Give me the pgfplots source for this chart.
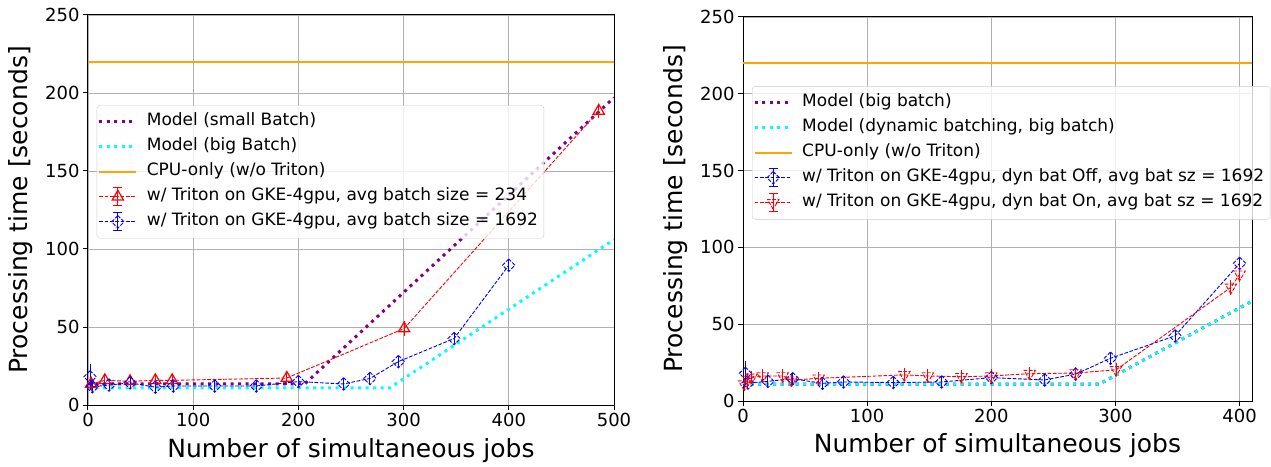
\documentclass[border=0pt]{standalone}
\usepackage{fontspec}
\setmainfont{DejaVu Sans}
\usepackage{pgfplots}
\pgfplotsset{compat=1.18}
\definecolor{mpurple}{HTML}{800080}
\definecolor{mcyan}{HTML}{00FFFF}
\definecolor{morange}{HTML}{FFA500}
\definecolor{gridgray}{HTML}{B0B0B0}
\pgfplotsset{
  mystyle/.style={
    scale only axis,
    ymin=0, ymax=250, ytick={0,50,100,150,200,250},
    grid=major, grid style={color=gridgray, line width=0.8pt},
    axis line style={line width=1pt},
    tick align=outside, major tick length=5pt, tick style={line width=1pt, black},
    xtick pos=bottom, ytick pos=left,
    tick label style={font=\fontsize{18}{21}\selectfont},
    /pgf/number format/assume math mode=true,
    label style={font=\fontsize{25}{30}\selectfont},
    legend cell align=left,
    legend style={anchor=north west, draw=black!20, rounded corners=3pt,
      fill=white, fill opacity=0.8, text opacity=1, draw opacity=1,
      font=\fontsize{17}{20}\selectfont,
      inner xsep=1pt, inner ysep=4pt, row sep=0pt,
      nodes={inner xsep=5pt, inner ysep=3.5pt, text height=13pt, text depth=5pt},
      /tikz/every odd column/.append style={column sep=4pt}},
    legend image code/.code={\draw[mark repeat=2,mark phase=2,#1] plot coordinates {(0pt,0pt)(18.5pt,0pt)(37pt,0pt)};},
  },
  modelstyle/.style={line width=3pt, dash pattern=on 3pt off 4.5pt},
  errstyle/.style={line width=0.9pt, dash pattern=on 3.7pt off 1.6pt,
    mark options={solid, line width=1.2pt},
    legend image code/.code={%
      \draw[##1, mark=none] (0pt,0pt) -- (37pt,0pt);
      \draw[##1, solid, mark=none, line width=1pt] (18.5pt,-9pt) -- (18.5pt,9pt) (14pt,9pt) -- (23pt,9pt) (14pt,-9pt) -- (23pt,-9pt);
      \draw[##1, mark repeat=2, mark phase=2] plot coordinates {(0pt,0pt)(18.5pt,0pt)(37pt,0pt)};},
    error bars/y dir=both, error bars/y explicit, error bars/error mark=-,
    error bars/error bar style={solid, line width=1pt},
    error bars/error mark options={solid, line width=1pt, mark size=5pt}},
}
\begin{document}
\begin{tikzpicture}
\useasboundingbox (0,0) rectangle (1271pt,466pt);
% ---------------- left ----------------
\begin{axis}[mystyle,
  at={(88pt,61pt)}, anchor=south west, width=526pt, height=390pt,
  xmin=0, xmax=500, xtick={0,100,200,300,400,500},
  xlabel={Number of simultaneous jobs}, ylabel={Processing time [seconds]},
  xlabel style={at={(axis description cs:0.5,-0.135)}, anchor=base, inner sep=0pt},
  ylabel style={at={(axis description cs:-0.105,0.5)}, anchor=south, inner sep=0pt},
  legend style={at={(0.0165,0.769)}},
]
\addplot[mpurple, modelstyle] coordinates {(0,13.5) (206,13.5) (500,197)};
\addlegendentry{Model (small Batch)}
\addplot[mcyan, modelstyle] coordinates {(0,11) (287,11) (500,106)};
\addlegendentry{Model (big Batch)}
\addplot[morange, line width=2.5pt] coordinates {(0,220) (500,220)};
\addlegendentry{CPU-only (w/o Triton)}
\addplot[red, errstyle, mark=triangle, mark size=6.5pt] coordinates {
 (3,13.5) +- (0,1.5) (16,15.8) +- (0,1) (40,15.2) +- (0,1) (64,15.8) +- (0,1)
 (80,15.8) +- (0,1) (189,17.3) +- (0,1.5) (300.5,49) +- (0,1.5) (485.5,188.5) +- (0,1.5)};
\addlegendentry{w/ Triton on GKE-4gpu, avg batch size = 234}
\addplot[blue, errstyle, mark=square, mark options={rotate=45}, mark size=4.4pt] coordinates {
 (2,18) +- (0,5) (4,11.7) +- (0,0.5) (20,12.8) +- (0,0.5) (40,14.2) +- (0,0.5)
 (64,11.4) +- (0,0.5) (81,12.2) +- (0,0.5) (120.5,12.2) +- (0,0.5) (160,12.2) +- (0,0.5)
 (200,15) +- (0,0.5) (243,13.5) +- (0,0.5) (268,17) +- (0,0.5) (295,27.8) +- (0,0.5)
 (348,42.6) +- (0,0.5) (400,89.6) +- (0,0.5)};
\addlegendentry{w/ Triton on GKE-4gpu, avg batch size = 1692}
\end{axis}
% ---------------- right ----------------
\begin{axis}[mystyle,
  at={(743pt,65pt)}, anchor=south west, width=509pt, height=384pt,
  xmin=0, xmax=410, xtick={0,100,200,300,400},
  xlabel={Number of simultaneous jobs}, ylabel={Processing time [seconds]},
  xlabel style={at={(axis description cs:0.5,-0.133)}, anchor=base, inner sep=0pt},
  ylabel style={at={(axis description cs:-0.108,0.5)}, anchor=south, inner sep=0pt},
  legend style={at={(0.0177,0.82)}},
]
\addplot[mpurple, modelstyle] coordinates {(0,11) (287,11) (410,65)};
\addlegendentry{Model (big batch)}
\addplot[mcyan, modelstyle] coordinates {(0,11) (287,11) (410,65)};
\addlegendentry{Model (dynamic batching, big batch)}
\addplot[morange, line width=2.5pt] coordinates {(0,220) (410,220)};
\addlegendentry{CPU-only (w/o Triton)}
\addplot[blue, errstyle, mark=square, mark options={rotate=45}, mark size=4.4pt] coordinates {
 (2,18) +- (0,4.5) (4,11.7) +- (0,0.5) (20,12.8) +- (0,0.5) (40,14.5) +- (0,0.5)
 (64,11.5) +- (0,0.5) (81,12.4) +- (0,0.5) (121,12) +- (0,0.5) (160,12.4) +- (0,0.5)
 (200,15.2) +- (0,0.5) (243,13.7) +- (0,0.5) (268,17.5) +- (0,0.5) (296,27.8) +- (0,0.5)
 (348,42.4) +- (0,0.5) (400,89.6) +- (0,0.5)};
\addlegendentry{w/ Triton on GKE-4gpu, dyn bat Off, avg bat sz = 1692}
\addplot[red, errstyle, mark=triangle, mark options={rotate=180}, mark size=6.5pt] coordinates {
 (1,11) +- (0,1) (4,14) +- (0,1) (7,15.4) +- (0,1) (16,16.3) +- (0,1) (32,16.3) +- (0,1)
 (39,13.5) +- (0,1) (61,14.8) +- (0,1) (130,17) +- (0,1) (149,16.3) +- (0,1)
 (176,15.8) +- (0,1) (200,16.3) +- (0,1) (231,17.8) +- (0,1) (268,18.2) +- (0,1)
 (300.5,20.3) +- (0,1) (393,74) +- (0,1.5) (400,82.5) +- (0,1.5)};
\addlegendentry{w/ Triton on GKE-4gpu, dyn bat On, avg bat sz = 1692}
\end{axis}
\end{tikzpicture}
\end{document}
